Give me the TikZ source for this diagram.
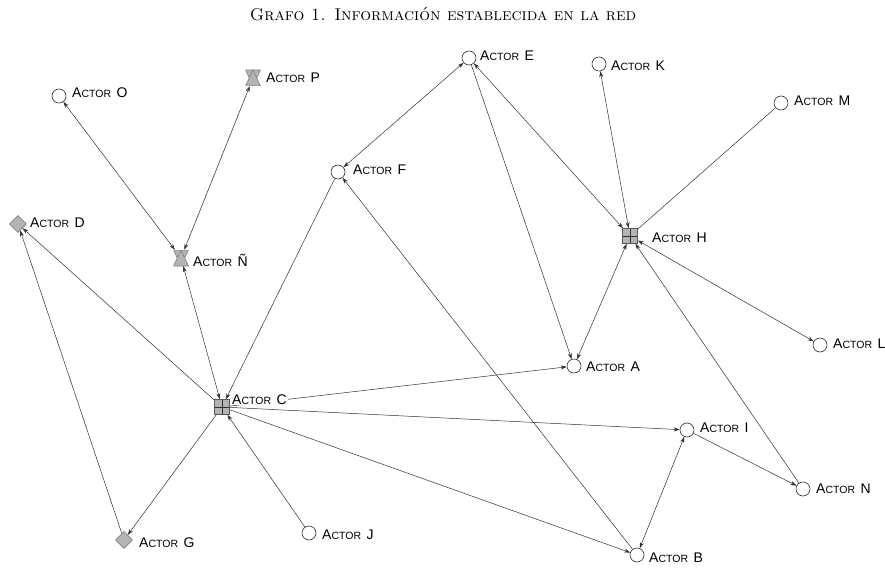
\documentclass[tikz,border=0pt]{standalone}
\usepackage{fontspec}
\newfontfamily\labfont{Liberation Sans}
\usetikzlibrary{shapes.geometric,arrows.meta}
\definecolor{ln}{HTML}{303030}
\definecolor{shp}{HTML}{B4B4B4}
\newcommand\actlbl[1]{{\labfont\fontsize{14}{16}\selectfont A{\fontsize{10.5}{12}\selectfont CTOR}\hspace{0.4em}#1}}
\begin{document}
\begin{tikzpicture}[x=1pt,y=-1pt,
  >={Stealth[length=6pt,width=4pt]},
  actc/.style={circle,draw=ln,fill=white,minimum size=14pt,inner sep=0pt,line width=0.6pt},
  acts/.style={rectangle,draw=ln!80,fill=shp,minimum size=15pt,inner sep=0pt,line width=0.6pt,
    path picture={\draw[ln,line width=0.6pt] (path picture bounding box.north) -- (path picture bounding box.south)
      (path picture bounding box.west) -- (path picture bounding box.east);}},
  actd/.style={diamond,draw=gray,fill=shp,minimum size=17pt,inner sep=0pt,line width=0.6pt},
  acth/.style={rectangle,minimum width=15pt,minimum height=16pt,inner sep=0pt,
    path picture={
      \filldraw[fill=shp,draw=gray,line width=0.6pt] (path picture bounding box.north west) -- (path picture bounding box.north east) -- (path picture bounding box.south) -- cycle;
      \filldraw[fill=shp,draw=gray,line width=0.6pt] (path picture bounding box.south west) -- (path picture bounding box.south east) -- (path picture bounding box.north) -- cycle;}},
  lbl/.style={anchor=base west,fill=white,inner sep=1pt},
  edge/.style={draw=ln,line width=0.5pt}]
\useasboundingbox (0,0) rectangle (885,569);
\node (title) at (443,14) {\fontsize{17}{20}\selectfont\textsc{Grafo 1. Información establecida en la red}};
% shapes
\node[actc] (O) at (59,96) {};
\node[acth] (P) at (253,78) {};
\node[actc] (E) at (469,58) {};
\node[actc] (K) at (599,64) {};
\node[actc] (M) at (781,103) {};
\node[actc] (F) at (338,172) {};
\node[actd] (D) at (18,224) {};
\node[acth] (Nn) at (181,258) {};
\node[acts] (H) at (630,236) {};
\node[actc] (A) at (574,366) {};
\node[actc] (L) at (820,345) {};
\node[acts] (C) at (222,407) {};
\node[actc] (I) at (687,430) {};
\node[actc] (N) at (803,489) {};
\node[actd] (G) at (124,540) {};
\node[actc] (J) at (309,533) {};
\node[actc] (B) at (637,555) {};
% edges
\draw[edge,<->] (O) -- (Nn);
\draw[edge,<->] (P) -- (Nn);
\draw[edge,<->] (Nn) -- (C);
\draw[edge,->] (C) -- (D);
\draw[edge,->] (G) -- (D);
\draw[edge,->] (C) -- (G);
\draw[edge,->] (J) -- (C);
\draw[edge,->] (F) -- (C);
\draw[edge,<->] (F) -- (E);
\draw[edge,->] (B) -- (F);
\draw[edge,->] (C) -- (A);
\draw[edge,->] (C) -- (I);
\draw[edge,->] (C) -- (B);
\draw[edge,->] (E) -- (A);
\draw[edge,<->] (E) -- (H);
\draw[edge,<->] (K) -- (H);
\draw[edge] (M) -- (H);
\draw[edge,<->] (H) -- (A);
\draw[edge,<->] (H) -- (L);
\draw[edge,->] (N) -- (H);
\draw[edge,->] (I) -- (N);
\draw[edge,<->] (I) -- (B);
% labels
\node[lbl] (lO) at (71,98) {\actlbl{O}};
\node[lbl] (lP) at (265,83) {\actlbl{P}};
\node[lbl] (lE) at (479,61) {\actlbl{E}};
\node[lbl] (lK) at (610,71) {\actlbl{K}};
\node[lbl] (lM) at (793,106) {\actlbl{M}};
\node[lbl] (lF) at (352,175) {\actlbl{F}};
\node[lbl] (lD) at (29,228) {\actlbl{D}};
\node[lbl] (lNn) at (192,266) {\actlbl{Ñ}};
\node[lbl] (lH) at (651,242) {\actlbl{H}};
\node[lbl] (lA) at (585,371) {\actlbl{A}};
\node[lbl] (lL) at (832,348) {\actlbl{L}};
\node[lbl] (lC) at (231,404) {\actlbl{C}};
\node[lbl] (lI) at (699,432) {\actlbl{I}};
\node[lbl] (lN) at (815,493) {\actlbl{N}};
\node[lbl] (lG) at (138,547) {\actlbl{G}};
\node[lbl] (lJ) at (321,539) {\actlbl{J}};
\node[lbl] (lB) at (648,562) {\actlbl{B}};
\end{tikzpicture}
\end{document}
